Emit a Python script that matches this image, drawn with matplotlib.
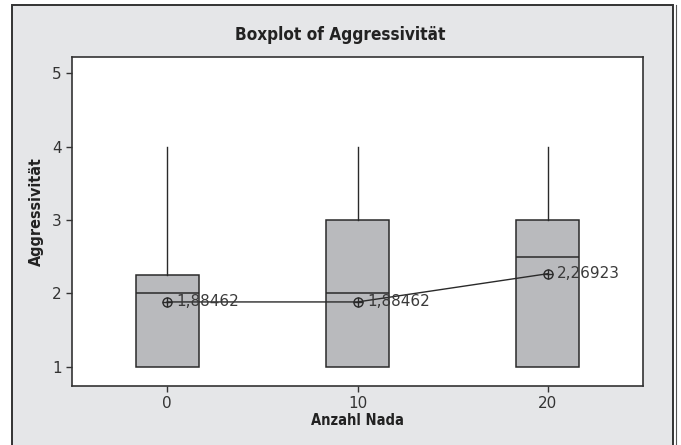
import matplotlib
matplotlib.use("Agg")
import matplotlib.pyplot as plt
from matplotlib.patches import Rectangle

# Data
groups = [0, 10, 20]
q1 = [1.0, 1.0, 1.0]
medians = [2.0, 2.0, 2.5]
q3 = [2.25, 3.0, 3.0]
whisker_low = [1.0, 1.0, 1.0]
whisker_high = [4.0, 4.0, 4.0]
means = [1.88462, 1.88462, 2.26923]
mean_labels = ["1,88462", "1,88462", "2,26923"]
yticks = [1, 2, 3, 4, 5]

fig = plt.figure(figsize=(6.81, 4.45), dpi=100)
fig.patch.set_facecolor('white')

# outer gray frame
frame = Rectangle((12/681, -0.05), (673-12)/681, 1 - 5/445 + 0.05,
                  transform=fig.transFigure, facecolor='#e5e6e8',
                  edgecolor='#333333', linewidth=1.4, zorder=-5)
fig.add_artist(frame)
fig.add_artist(plt.Line2D([676/681, 676/681], [0, 1 - 5/445], transform=fig.transFigure,
                          color='#555555', lw=0.8, zorder=-5))

ax = fig.add_axes([72/681, 1 - 386/445, (643-72)/681, (386-57)/445])
ax.set_zorder(2)
ax.set_facecolor('white')

stats = []
for i in range(len(groups)):
    stats.append(dict(med=medians[i], q1=q1[i], q3=q3[i],
                      whislo=whisker_low[i], whishi=whisker_high[i], fliers=[]))

ax.bxp(stats, positions=groups, widths=3.3, patch_artist=True, showcaps=False,
       boxprops=dict(facecolor='#b9babd', edgecolor='#2a2a2a', linewidth=1.1),
       medianprops=dict(color='#2a2a2a', linewidth=1.1),
       whiskerprops=dict(color='#2a2a2a', linewidth=1.0),
       manage_ticks=False)

ax.plot(groups, means, color='#2a2a2a', lw=1.0, zorder=5)
ax.plot(groups, means, linestyle='none', marker='o', markersize=6.5,
        markerfacecolor='none', markeredgecolor='#2a2a2a', markeredgewidth=1.0, zorder=6)
ax.plot(groups, means, linestyle='none', marker='+', markersize=6.5,
        color='#2a2a2a', markeredgewidth=1.0, zorder=6)
for x, m, lab in zip(groups, means, mean_labels):
    ax.text(x + 0.5, m, lab, fontsize=11, color='#3a3a3a', va='center', ha='left',
            family='DejaVu Sans', zorder=7)

ax.set_xlim(-5, 25)
ax.set_ylim(0.74, 5.22)
ax.set_xticks(groups)
ax.set_xticklabels([str(g) for g in groups])
ax.set_yticks(yticks)
ax.tick_params(direction='out', length=4, width=1, color='#333333',
               labelsize=11, labelcolor='#333333')
for lab in ax.get_xticklabels() + ax.get_yticklabels():
    lab.set_family('DejaVu Sans')
for sp in ax.spines.values():
    sp.set_color('#333333')
    sp.set_linewidth(1.2)

fig.text(340/681, 1 - 35/445, 'Boxplot of Aggressivität', fontsize=12.3, fontweight='bold',
         family='DejaVu Sans', fontstretch='condensed', color='#222222',
         ha='center', va='center')
ax.set_xlabel('Anzahl Nada', fontsize=10.5, fontweight='bold', family='DejaVu Sans',
              fontstretch='condensed', color='#222222', labelpad=1)
ax.set_ylabel('Aggressivität', fontsize=11.5, fontweight='bold', family='DejaVu Sans',
              fontstretch='condensed', color='#222222')
ax.yaxis.set_label_coords((44 - 72)/571, (386 - 212)/329)

fig.savefig('out.png', dpi=100, facecolor=fig.get_facecolor())
